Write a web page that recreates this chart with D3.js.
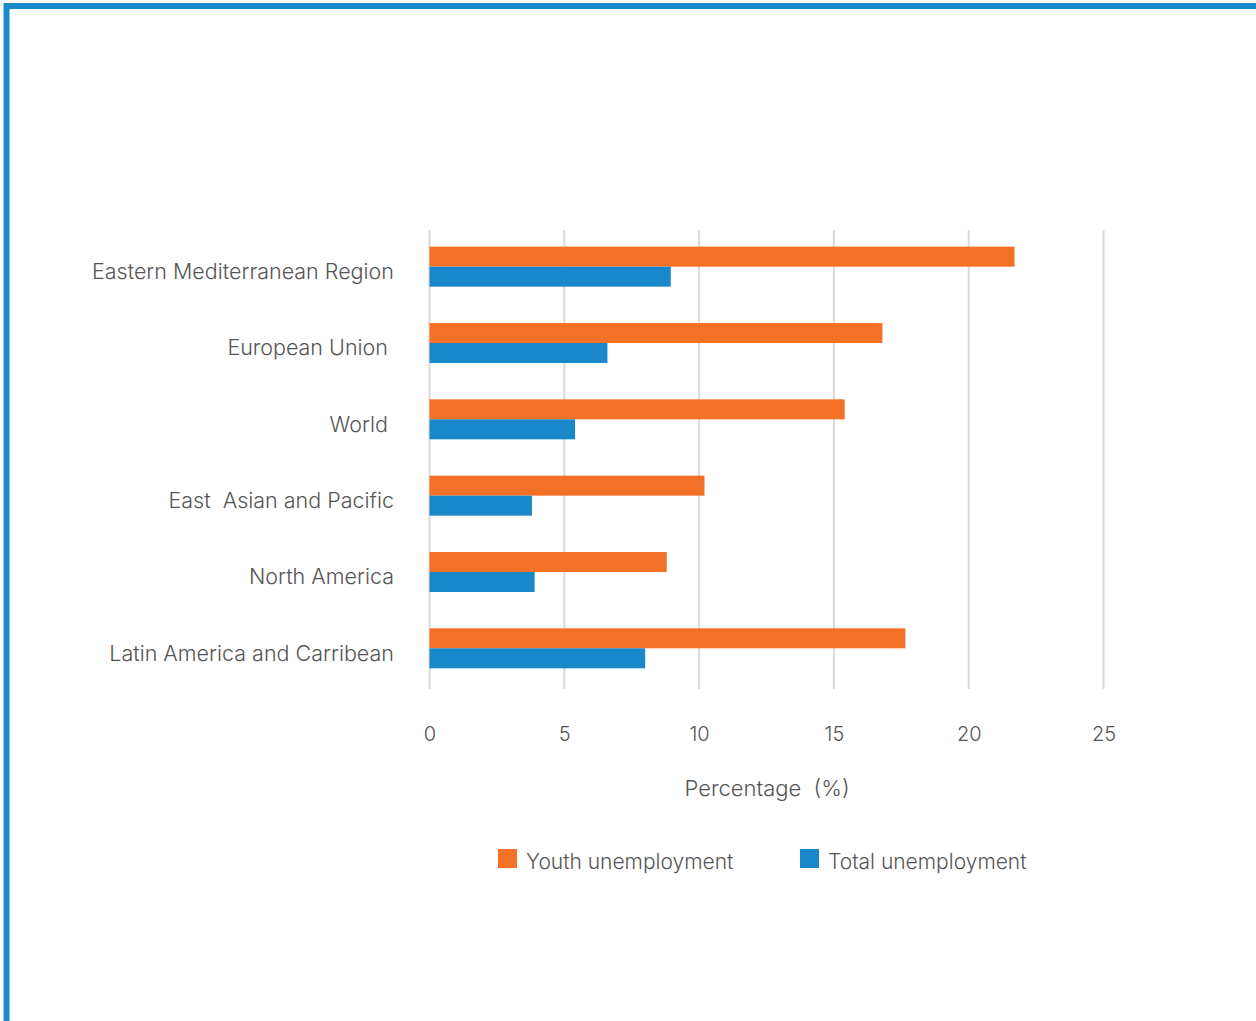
<!DOCTYPE html>
<html>
<head>
<meta charset="utf-8">
<script src="https://cdn.jsdelivr.net/npm/d3@7"></script>
<style>
html,body{margin:0;padding:0;background:#fff;}
svg text{font-family:"Inter","Roboto","Liberation Sans",sans-serif;font-weight:300;fill:#555;white-space:pre;}
</style>
</head>
<body>
<svg id="chart" width="1256" height="1021"></svg>
<script>
const categories = ["Eastern Mediterranean Region","European Union ","World ","East  Asian and Pacific","North America","Latin America and Carribean"];
const youthValues = [21.7, 16.8, 15.4, 10.2, 8.8, 17.65];
const totalValues = [8.95, 6.6, 5.4, 3.8, 3.9, 8.0];
const tickValues = [0, 5, 10, 15, 20, 25];
const seriesNames = ["Youth unemployment", "Total unemployment"];
const seriesColors = ["#F37126", "#1988CB"];
const axisTitle = "Percentage  (%)";

const svg = d3.select("#chart");

// frame border
svg.append("rect").attr("x", 6.5).attr("y", 6).attr("width", 1400).attr("height", 1200)
  .attr("fill", "none").attr("stroke", "#1A8ACB").attr("stroke-width", 6);

const x = d3.scaleLinear().domain([0, 25]).range([429.5, 1103.5]);
const y = d3.scaleBand().domain(categories).range([228.5, 686.5]).padding(0);

// gridlines
svg.append("g").selectAll("line").data(tickValues).join("line")
  .attr("x1", d => x(d)).attr("x2", d => x(d))
  .attr("y1", 230).attr("y2", 689)
  .attr("stroke", "#d9d9d9").attr("stroke-width", 2);

// bars
const barH = 20;
const g = svg.append("g");
g.selectAll("rect.youth").data(categories).join("rect").attr("class","youth")
  .attr("x", x(0)).attr("y", d => y(d) + y.bandwidth()/2 - barH)
  .attr("width", (d,i) => x(youthValues[i]) - x(0)).attr("height", barH)
  .attr("fill", seriesColors[0]);
g.selectAll("rect.total").data(categories).join("rect").attr("class","total")
  .attr("x", x(0)).attr("y", d => y(d) + y.bandwidth()/2)
  .attr("width", (d,i) => x(totalValues[i]) - x(0)).attr("height", barH)
  .attr("fill", seriesColors[1]);

// category labels
const yAxis = d3.axisLeft(y).tickSize(0).tickPadding(0);
const ya = svg.append("g").attr("transform", "translate(394,5.5)").call(yAxis);
ya.select(".domain").remove();
ya.selectAll("text").attr("font-size", 21.5).style("fill", "#555")
  .attr("font-family", null).style("white-space", "pre");

// x axis tick labels
const xAxis = d3.axisBottom(x).tickValues(tickValues).tickSize(0).tickPadding(0).tickFormat(d3.format("d"));
const xa = svg.append("g").attr("transform", "translate(0,727)").call(xAxis);
xa.select(".domain").remove();
xa.selectAll("text").attr("font-size", 20).style("fill", "#555")
  .attr("font-family", null);

// axis title
svg.append("text").attr("x", 767).attr("y", 796).attr("text-anchor", "middle")
  .attr("font-size", 22).text(axisTitle);

// legend
const legendX = [498, 800];
const lg = svg.append("g").selectAll("g").data(seriesNames).join("g")
  .attr("transform", (d,i) => `translate(${legendX[i]},849)`);
lg.append("rect").attr("width", 19).attr("height", 19).attr("fill", (d,i) => seriesColors[i]);
lg.append("text").attr("x", 28).attr("y", 20).attr("font-size", 21).text(d => d);
</script>
</body>
</html>
